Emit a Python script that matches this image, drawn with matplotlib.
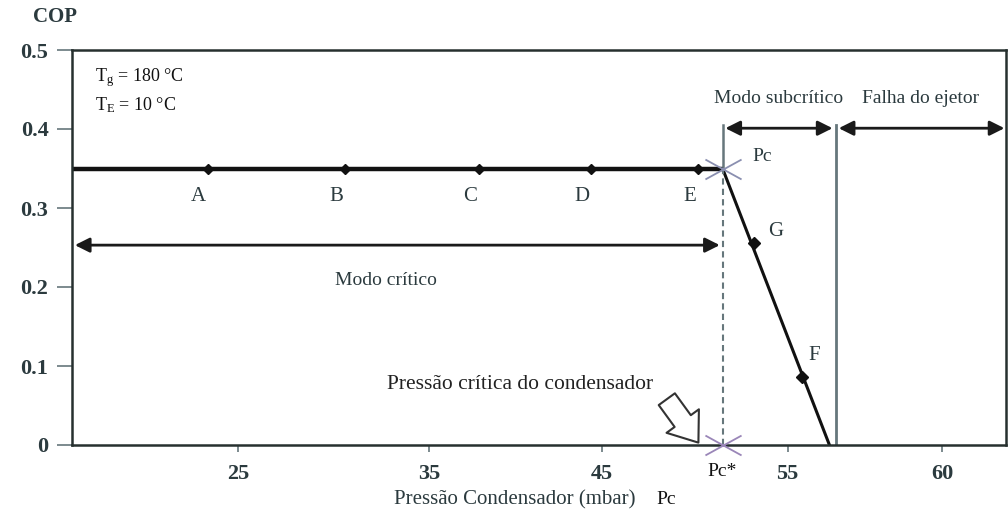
import numpy as np
import matplotlib
matplotlib.use('Agg')
import matplotlib.pyplot as plt
from matplotlib.path import Path
from matplotlib.patches import FancyArrowPatch

plt.rcParams.update({
    'font.family': 'Liberation Serif',
    'mathtext.fontset': 'custom',
    'mathtext.rm': 'Liberation Serif',
    'mathtext.it': 'Liberation Serif',
    'font.size': 14,
})

# operating points
crit_labels = ['A', 'B', 'C', 'D', 'E']
crit_p = [23.4, 30.6, 37.9, 44.4, 50.2]
crit_cop = [0.35, 0.35, 0.35, 0.35, 0.35]

sub_labels = ['G', 'F']
sub_p = [53.2, 55.45]
sub_cop = [0.256, 0.086]

p_crit = 51.5        # Pc*
cop_crit = 0.35
p_zero = 56.35       # COP falls to zero
p_fail = 56.55       # ejector failure boundary

x_ticks = [25, 35, 45, 55, 60]
y_ticks = [0, 0.1, 0.2, 0.3, 0.4, 0.5]
y_ticklabels = ['0', '0.1', '0.2', '0.3', '0.4', '0.5']

# schematic (non-uniform) pressure axis
P_ANCH = [15, 25, 35, 45, 55, 60, 65]
U_ANCH = [47, 238, 429, 602, 788, 943, 1098]
fwd = lambda p: np.interp(p, P_ANCH, U_ANCH)
inv = lambda u: np.interp(u, U_ANCH, P_ANCH)

INK = '#2b3a3e'
GREY = '#66777c'

fig = plt.figure(figsize=(10.08, 5.13), dpi=100)
ax = fig.add_axes([72/1008, 68/513, 934/1008, 395/513])
ax.set_xscale('function', functions=(fwd, inv))
ax.set_xlim(16.3, 62.05)
ax.set_ylim(0, 0.5)

for s in ax.spines.values():
    s.set_color('#26302f')
    s.set_linewidth(1.8)

ax.set_yticks(y_ticks)
ax.set_yticklabels(y_ticklabels, color=INK, fontsize=16, fontweight='bold')
ax.tick_params(axis='y', length=11, width=1.2, color=GREY, pad=6)
ax.set_xticks(x_ticks)
ax.set_xticklabels([str(t) for t in x_ticks], color=INK, fontsize=16, fontweight='bold')
ax.tick_params(axis='x', length=5, width=1.2, color=GREY, pad=9)
ax.xaxis.set_minor_locator(matplotlib.ticker.NullLocator())

# critical-mode plateau
ax.plot([16.3, p_crit], [cop_crit, cop_crit], color='#111', lw=3.2, solid_capstyle='butt')
ax.plot(crit_p, crit_cop, 'D', color='#111', ms=5.5, ls='none')
for lab, p, c in zip(crit_labels, crit_p, crit_cop):
    ax.annotate(lab, (p, c), xytext=(-9, -28), textcoords='offset pixels',
                ha='center', va='center', color=INK, fontsize=15)

# subcritical drop
ax.plot([p_crit, p_zero], [cop_crit, 0], color='#111', lw=2.2)
ax.plot(sub_p, sub_cop, 'D', color='#111', ms=6, ls='none')
offs = [(22, 11), (13, 22)]
for lab, p, c, o in zip(sub_labels, sub_p, sub_cop, offs):
    ax.annotate(lab, (p, c), xytext=o, textcoords='offset pixels',
                ha='center', va='center', color=INK, fontsize=15)

# vertical markers
ax.plot([p_crit, p_crit], [0, cop_crit], color=GREY, lw=1.5, ls=(0, (3, 2)))
ax.plot([p_crit, p_crit], [cop_crit, 0.405], color=GREY, lw=1.8)
ax.plot([p_fail, p_fail], [0, 0.405], color=GREY, lw=2.0)

# star markers at Pc and Pc*
star = Path([(-1, -0.55), (1, 0.55), (-1, 0.55), (1, -0.55)],
            [Path.MOVETO, Path.LINETO, Path.MOVETO, Path.LINETO])
ax.plot([p_crit], [cop_crit], marker=star, ms=26, mew=1.3, color='#8a8fb0', ls='none')
ax.plot([p_crit], [0], marker=star, ms=26, mew=1.3, color='#9a86b8', ls='none',
        clip_on=False, zorder=5)

# mode arrows
def span(x0, x1, y):
    ax.add_patch(FancyArrowPatch((x0, y), (x1, y), arrowstyle='<|-|>',
                                 mutation_scale=22, lw=2.0, color='#1a1a1a',
                                 shrinkA=0, shrinkB=0))

span(16.45, 51.35, 0.253)
span(51.65, 56.45, 0.401)
span(56.65, 62.0, 0.401)

ax.text(32.75, 0.208, 'Modo crítico', ha='center', va='center', color=INK, fontsize=14)
ax.text(54.5, 0.439, 'Modo subcrítico', ha='center', va='center', color=INK, fontsize=14)
ax.text(59.3, 0.439, 'Falha do ejetor', ha='center', va='center', color=INK, fontsize=14)

ax.annotate('Pc', (p_crit, cop_crit), xytext=(30, 12), textcoords='offset pixels',
            ha='left', va='center', color=INK, fontsize=14)
ax.annotate('Pc*', (p_crit, 0), xytext=(0, -27), textcoords='offset pixels',
            ha='center', va='center', color='#111', fontsize=14, annotation_clip=False)

# hollow pointer toward the critical pressure
ax.add_patch(FancyArrowPatch((48.5, 0.058), (50.2, 0.003),
                             arrowstyle='simple,head_length=0.8,head_width=1.2,tail_width=0.6',
                             mutation_scale=24, fc='white', ec='#333', lw=1.5,
                             shrinkA=0, shrinkB=0, zorder=4))
ax.text(40.3, 0.076, 'Pressão crítica do condensador', ha='center', va='center',
        color='#222', fontsize=15.5)

# parameters box
ax.text(0.025, 0.929, r'T$_\mathrm{g}$ = 180 °C', transform=ax.transAxes,
        ha='left', va='center', color='#111', fontsize=13)
ax.text(0.025, 0.861, r'T$_\mathrm{E}$ = 10 °C', transform=ax.transAxes,
        ha='left', va='center', color='#111', fontsize=13)

fig.text(55/1008, 1 - 17/513, 'COP', ha='center', va='center', color=INK,
         fontsize=15, fontweight='bold')
fig.text(515/1008, 1 - 500/513, 'Pressão Condensador (mbar)', ha='center', va='center',
         color=INK, fontsize=15)
fig.text(666/1008, 1 - 499/513, 'Pc', ha='center', va='center', color='#111', fontsize=14)

fig.savefig('out.png', dpi=100, facecolor='white')
